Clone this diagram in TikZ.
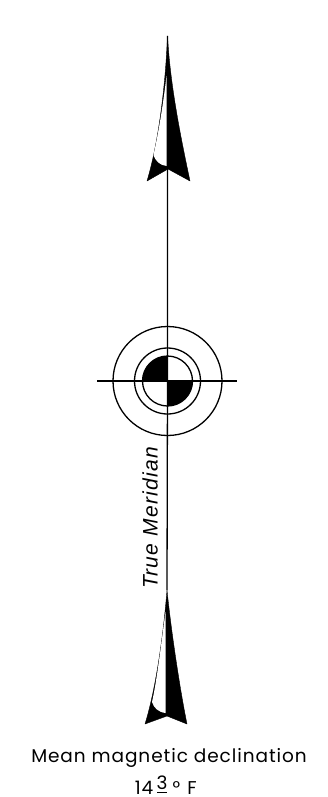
\documentclass[tikz,border=0pt]{standalone}
\usepackage{fontspec}
\setmainfont{Poppins}[LetterSpace=5]
\newfontfamily\merifont{Liberation Sans}[LetterSpace=6]
\usetikzlibrary{positioning,calc}
\tikzset{
  rng/.style={circle,draw,line width=1.3pt,inner sep=0pt,minimum size=#1},
  ln/.style={line width=1.3pt},
  blk/.style={fill=black,draw=black,line width=0.4pt,line join=round},
  wht/.style={fill=white,draw=none},
  mer/.style={rotate=90,font=\fontsize{21}{24}\selectfont\merifont\itshape},
  lbl/.style={font=\fontsize{18.5}{22}\selectfont,inner sep=0pt},
  bar/.style={line width=1pt},
}
\begin{document}
\begin{tikzpicture}[x=1pt,y=-1pt]
  \useasboundingbox (0,0) rectangle (327,797);
  \coordinate (c) at (167.5,381);
  \coordinate (tip) at (167.5,36);
  \coordinate (low) at (167,590);
  \coordinate (w) at (97,381);
  \coordinate (e) at (237,381);
  % lines and rings
  \draw[ln] (tip) -- (c) -- (low);
  \draw[ln] (w) -- (e);
  \node[rng=109pt] (outer) at (c) {};
  \node[rng=66pt] (middle) at (c) {};
  \node[rng=50pt] (inner) at (c) {};
  \fill (c) -- ++(-25,0) arc[start angle=180,end angle=270,radius=25] -- cycle;
  \fill (c) -- ++(25,0) arc[start angle=0,end angle=90,radius=25] -- cycle;
  % top arrow
  \draw[blk] (tip) .. controls (170,80) and (178,125) .. (190,181) -- (168,169) -- (147,181)
    .. controls (157,148) and (165,95) .. (tip) -- cycle;
  \fill[wht] (166.5,76) -- (166.5,166) .. controls (160,165) and (156,162) .. (153.5,155)
    .. controls (159,130) and (163,105) .. (166.5,76) -- cycle;
  % bottom arrow
  \draw[blk] (low) .. controls (171,630) and (180,690) .. (187,724) -- (167,716) -- (145,724)
    .. controls (155,692) and (163,640) .. (low) -- cycle;
  \fill[wht] (165.5,612) -- (165.5,713) .. controls (158,712) and (154,708) .. (152,702)
    .. controls (157,680) and (161,645) .. (165.5,612) -- cycle;
  % labels
  \node[mer] (meridian) at (150,518) {True Meridian};
  \node[lbl,anchor=base] (decl) at (169,762) {Mean magnetic declination};
  \node[lbl,anchor=base] (deg) at (144,794.5) {14};
  \node[lbl,anchor=base] (num) at (162,789) {3};
  \node[lbl,anchor=base] (sym) at (176.5,794.5) {°};
  \node[lbl,anchor=base] (unit) at (192,794.5) {F};
  \coordinate (barl) at (157,792.5);
  \coordinate (barr) at (167,792.5);
  \draw[bar] (barl) -- (barr);
\end{tikzpicture}
\end{document}
